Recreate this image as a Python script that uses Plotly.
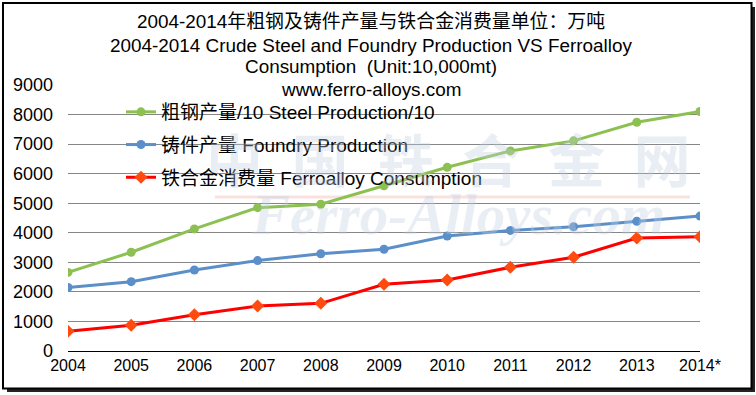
import plotly.graph_objects as go

years = ["2004", "2005", "2006", "2007", "2008", "2009", "2010", "2011", "2012", "2013", "2014*"]
steel_div10 = [2660, 3340, 4130, 4850, 4965, 5590, 6215, 6770, 7110, 7740, 8105]
foundry = [2150, 2345, 2741, 3060, 3290, 3441, 3892, 4080, 4205, 4389, 4565]
ferroalloy = [665, 869, 1229, 1523, 1613, 2260, 2403, 2832, 3171, 3824, 3865]

names = ["粗钢产量/10 Steel Production/10", "铸件产量 Foundry Production", "铁合金消费量 Ferroalloy Consumption"]

title_lines = [
    "2004-2014年粗钢及铸件产量与铁合金消费量单位：万吨",
    "2004-2014 Crude Steel and Foundry Production VS Ferroalloy",
    "Consumption  (Unit:10,000mt)",
    "www.ferro-alloys.com",
]

FONT = "Liberation Sans, Arial, Noto Sans CJK SC, sans-serif"
W, H = 756, 395
L, R, T, B = 68, 56, 85, 44
PW, PH = W - L - R, H - T - B


def px(x):
    return (x - L) / PW


def py(y):
    return (H - B - y) / PH


fig = go.Figure()
fig.add_trace(go.Scatter(x=years, y=steel_div10, name=names[0], mode="lines+markers",
                         line=dict(color="#8CC152", width=3),
                         marker=dict(symbol="circle", size=9, color="#8CC152"),
                         legendgroup="a"))
fig.add_trace(go.Scatter(x=years, y=foundry, name=names[1], mode="lines+markers",
                         line=dict(color="#5B8FC9", width=3),
                         marker=dict(symbol="circle", size=9, color="#5B8FC9"),
                         legendgroup="b"))
fig.add_trace(go.Scatter(x=years, y=ferroalloy, name=names[2], mode="lines+markers",
                         line=dict(color="#FF0000", width=3),
                         marker=dict(symbol="diamond", size=10, color="#FF4A10"),
                         legendgroup="c"))

annotations = []
# watermark
annotations.append(dict(text="中\u2002国\u2002铁\u2002合\u2002金\u2002网", xref="paper", yref="paper",
                        x=px(448), y=py(157), showarrow=False,
                        font=dict(family="Noto Sans CJK SC", size=57, color="#c3cfe2", weight="bold"),
                        opacity=0.35, xanchor="center", yanchor="middle"))
annotations.append(dict(text="Ferro-Alloys.com", xref="paper", yref="paper", x=px(458), y=py(214),
                        showarrow=False, font=dict(family="Liberation Serif, DejaVu Serif, serif", size=57,
                                                   color="#c3cfe2", weight="bold", style="italic"),
                        opacity=0.35, xanchor="center", yanchor="middle"))
# titles
for txt, yy in zip(title_lines, [21, 46, 67, 89]):
    annotations.append(dict(text=txt, xref="paper", yref="paper", x=px(371), y=py(yy),
                            showarrow=False, font=dict(family=FONT, size=18.9, color="#000000"),
                            xanchor="center", yanchor="middle"))

shapes = [
    # faint watermark stripe
    dict(type="line", xref="paper", yref="paper", x0=px(215), x1=px(690), y0=py(197), y1=py(197),
         line=dict(color="rgba(240,170,160,0.35)", width=3), layer="below"),
    # shadow
    dict(type="line", xref="paper", yref="paper", x0=px(753.5), x1=px(753.5), y0=py(7), y1=py(391.5),
         line=dict(color="#222222", width=3)),
    dict(type="line", xref="paper", yref="paper", x0=px(7), x1=px(755), y0=py(390.5), y1=py(390.5),
         line=dict(color="#222222", width=3)),
    # border
    dict(type="rect", xref="paper", yref="paper", x0=px(3), x1=px(751.5), y0=py(3), y1=py(388.5),
         line=dict(color="#000000", width=2)),
]

fig.update_layout(
    width=W, height=H,
    margin=dict(l=L, r=R, t=T, b=B),
    paper_bgcolor="white", plot_bgcolor="white",
    font=dict(family=FONT, color="#000000"),
    showlegend=True,
    legend=dict(x=px(121), y=py(93), xanchor="left", yanchor="top", bgcolor="rgba(0,0,0,0)",
                font=dict(family=FONT, size=19, color="#000000"), tracegroupgap=5,
                traceorder="grouped"),
    annotations=annotations,
    shapes=shapes,
    xaxis=dict(type="category", range=[0, 10], showgrid=False, showline=True, linecolor="#000000",
               linewidth=1, ticks="", tickfont=dict(size=16, family=FONT), fixedrange=True),
    yaxis=dict(range=[0, 9000], dtick=1000, showgrid=True, gridcolor="#868686", gridwidth=1,
               zeroline=False, showline=False, ticks="", tickfont=dict(size=18, family=FONT),
               ticklabelstandoff=14, fixedrange=True),
)

fig.write_html("out.html", config={"displayModeBar": False},
               post_script="document.body.style.margin='0';document.body.style.overflow='hidden';")
